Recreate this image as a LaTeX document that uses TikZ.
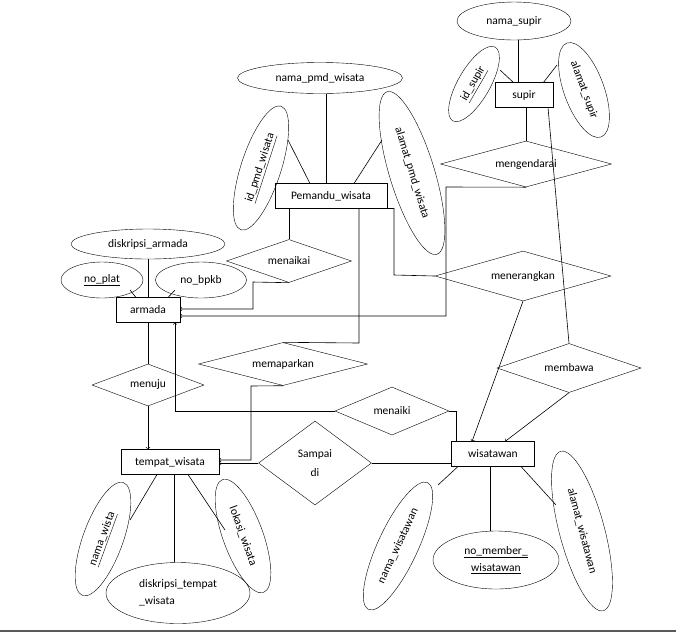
\documentclass[tikz,border=0pt]{standalone}
\usepackage{fontspec}
\setmainfont{Carlito}
\usetikzlibrary{shapes.geometric}
\begin{document}
\begin{tikzpicture}[x=1pt,y=-1pt,font=\fontsize{11.5}{13}\selectfont,
  ent/.style={draw,rectangle,inner sep=0,minimum width=#1,minimum height=25},
  att/.style={draw,ellipse,inner sep=0},
  rel/.style={draw,diamond,aspect=2.6,inner sep=0},
  ln/.style={line width=0.6pt},
  arr/.style={ln,->}]
\useasboundingbox (0,0) rectangle (676,633);
\draw[line width=2pt,gray!70!black] (0,631) -- (676,631);
% entities
\node[ent=58] (supir) at (524,95) {supir};
\node[ent=112] (pem) at (331,196) {Pemandu\_wisata};
\node[ent=64] (arm) at (148,310) {armada};
\node[ent=98] (tw) at (170,462) {tempat\_wisata};
\node[ent=83] (wis) at (493,454) {wisatawan};
% attributes
\node[att,minimum width=114,minimum height=38] (ns) at (514,21) {nama\_supir};
\node[att,minimum width=85,minimum height=32,rotate=60] (is) at (474,84) {\underline{id\_supir}};
\node[att,minimum width=100,minimum height=40,rotate=-70] (as) at (584,90) {alamat\_supir};
\node[att,minimum width=165,minimum height=31] (np) at (320,78) {nama\_pmd\_wisata};
\node[att,minimum width=130,minimum height=40,rotate=72] (ip) at (261,168) {\underline{id\_pmd\_wisata}};
\node[att,minimum width=170,minimum height=45,rotate=-73] (ap) at (412,173) {alamat\_pmd\_wisata};
\node[att,minimum width=154,minimum height=30] (da) at (148,244) {diskripsi\_armada};
\node[att,minimum width=82,minimum height=36] (npl) at (102,280) {\underline{no\_plat}};
\node[att,minimum width=91,minimum height=36] (nb) at (201,280) {no\_bpkb};
\node[att,minimum width=120,minimum height=40,rotate=70] (nw) at (103,539) {\underline{nama\_wista}};
\node[att,minimum width=120,minimum height=40,rotate=-70] (lw) at (243,536) {lokasi\_wisata};
\node[att,minimum width=144,minimum height=61,align=left] (dt) at (178,593) {diskripsi\_tempat\\[4pt]\_wisata};
\node[att,minimum width=140,minimum height=40,rotate=65] (nwi) at (398,546) {nama\_wisatawan};
\node[att,minimum width=126,minimum height=58,align=center] (nm) at (496,560) {\underline{no\_member\_}\\[4pt]\underline{wisatawan}};
\node[att,minimum width=165,minimum height=45,rotate=-75] (aw) at (582,531) {alamat\_wisatawan};
% relationships
\node[rel,minimum width=171,minimum height=46] (meng) at (526,164) {mengendarai};
\node[rel,minimum width=125,minimum height=43] (mki) at (289,261) {menaikai};
\node[rel,minimum width=176,minimum height=50] (mer) at (523,276) {menerangkan};
\node[rel,minimum width=144,minimum height=49] (mbw) at (569,368) {membawa};
\node[rel,minimum width=112,minimum height=42] (mnj) at (148,385) {menuju};
\node[rel,minimum width=169,minimum height=43] (mmp) at (283,364) {memaparkan};
\node[rel,minimum width=114,minimum height=48] (mni) at (392,411) {menaiki};
\node[rel,aspect=1.35,minimum width=113,minimum height=84,align=center] (sd) at (315,463) {Sampai\\[6pt]di};
% attribute lines
\draw[ln] (518,40) -- (518,83);
\draw[ln] (500,70) -- (514,83);
\draw[ln] (557,65) -- (543,83);
\draw[ln] (326,94) -- (326,183.5);
\draw[ln] (288,140) -- (310,183.5);
\draw[ln] (382,140) -- (354,183.5);
\draw[ln] (da.south) -- (arm.north);
\draw[ln] (130,290) -- (136,297.5);
\draw[ln] (175,290) -- (168,297.5);
\draw[ln] (157,474.5) -- (130,520);
\draw[ln] (174,474.5) -- (dt.north -| 174,0);
\draw[ln] (188,474.5) -- (225,530);
\draw[ln] (458,466.5) -- (438,485);
\draw[ln] (490,466.5) -- (nm.north -| 490,0);
\draw[ln] (521,466.5) -- (556,505);
% relationship lines
\draw[ln] (supir.south -| meng.north) -- (meng.north);
\draw[arr] (meng.south) -- (446,187) -- (446,316) -- (180,316);
\draw[ln] (pem.south -| mki.north) -- (mki.north);
\draw[arr] (mki.south) -- (253,282) -- (253,309) -- (180,309);
\draw[ln] (366,208.5) -- (394,208.5) -- (394,275) -- (mer.west);
\draw[arr] (mer.south) -- (472,441.5);
\draw[ln] (548,107.5) -- (mbw.north);
\draw[arr] (mbw.south) -- (505,441.5);
\draw[ln] (arm.south) -- (mnj.north);
\draw[arr] (mnj.south) -- (tw.north -| mnj.south);
\draw[ln] (359,208.5) -- (359,343) -- (mmp.north);
\draw[arr] (mmp.south) -- (251,386) -- (251,460) -- (219,460);
\draw[arr] (sd.west) -- (219,463);
\draw[ln] (sd.east) -- (wis.west |- sd.east);
\draw[arr] (mni.west) -- (175,411) -- (175,322.5);
\draw[ln] (mni.east) -- (456,411) -- (456,441.5);
\end{tikzpicture}
\end{document}
